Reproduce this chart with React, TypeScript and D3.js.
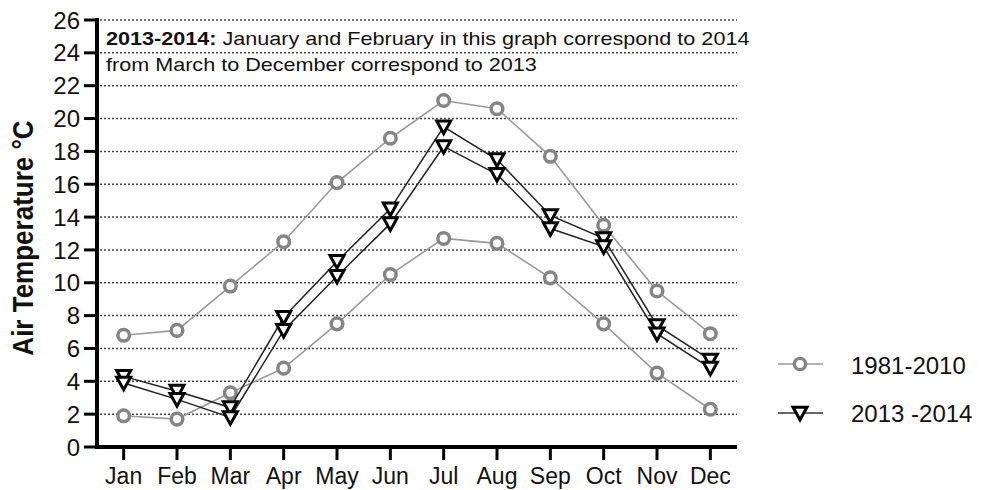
import React from "react";
import * as d3 from "d3";

const months = ["Jan","Feb","Mar","Apr","May","Jun","Jul","Aug","Sep","Oct","Nov","Dec"];
const climUpper = [6.8, 7.1, 9.8, 12.5, 16.1, 18.8, 21.1, 20.6, 17.7, 13.5, 9.5, 6.9];
const climLower = [1.9, 1.7, 3.3, 4.8, 7.5, 10.5, 12.7, 12.4, 10.3, 7.5, 4.5, 2.3];
const obsUpper = [4.3, 3.4, 2.4, 7.9, 11.3, 14.5, 19.5, 17.5, 14.1, 12.7, 7.4, 5.3];
const obsLower = [3.9, 2.9, 1.8, 7.1, 10.4, 13.6, 18.3, 16.6, 13.3, 12.2, 6.9, 4.8];
const yTicks = d3.range(0, 27, 2);
const legendLabels = ["1981-2010", "2013 -2014"];

const FONT = "'Liberation Sans', Arial, Helvetica, sans-serif";
const W = 981, H = 490;
const X0 = 97, X1 = 737, Y0 = 447, Y1 = 20;

const triPath = "M-7,-5.8 L7,-5.8 L0,6.8 Z";

export default function App() {
  const x = d3.scaleBand<string>().domain(months).range([X0, X1]).padding(0);
  const cx = (m: string) => (x(m) as number) + x.bandwidth() / 2;
  const y = d3.scaleLinear().domain([0, 26]).range([Y0, Y1]);
  const line = d3.line<number>().x((_, i) => cx(months[i])).y((v) => y(v));

  const grayLine = "#9a9a9a";
  const grayMark = "#858585";

  const circles = (vals: number[], key: string) =>
    vals.map((v, i) => (
      <circle key={key + i} cx={cx(months[i])} cy={y(v)} r={5.8} fill="white" stroke={grayMark} strokeWidth={3.5} />
    ));
  const tris = (vals: number[], key: string) =>
    vals.map((v, i) => (
      <path key={key + i} d={triPath} transform={`translate(${cx(months[i])},${y(v)})`} fill="white" stroke="black" strokeWidth={3} strokeLinejoin="miter" />
    ));

  return (
    <svg width={W} height={H} style={{ position: "absolute", left: 0, top: 0, background: "white" }} fontFamily={FONT}>
      <rect width={W} height={H} fill="white" />
      {yTicks.filter((t) => t > 0).map((t) => (
        <line key={"g" + t} x1={X0 + 3} x2={X1} y1={y(t)} y2={y(t)} stroke="#444" strokeWidth={1.5} strokeDasharray="2,2" />
      ))}
      <g transform="translate(106,45) scale(1.2,1)">
        <text fontSize={18} fill="#111">
          <tspan fontWeight="bold">2013-2014:</tspan>
          <tspan> January and February in this graph correspond to 2014</tspan>
        </text>
      </g>
      <g transform="translate(106,71) scale(1.2,1)">
        <text fontSize={18} fill="#111">from March to December correspond to 2013</text>
      </g>
      <path d={line(climUpper) || ""} fill="none" stroke={grayLine} strokeWidth={1.6} />
      <path d={line(climLower) || ""} fill="none" stroke={grayLine} strokeWidth={1.6} />
      {circles(climUpper, "cu")}
      {circles(climLower, "cl")}
      <path d={line(obsUpper) || ""} fill="none" stroke="#222" strokeWidth={1.5} />
      <path d={line(obsLower) || ""} fill="none" stroke="#222" strokeWidth={1.5} />
      {tris(obsUpper, "ou")}
      {tris(obsLower, "ol")}
      <line x1={X0} x2={X0} y1={Y1 - 2} y2={Y0 + 2} stroke="black" strokeWidth={4} />
      <line x1={X0 - 2} x2={X1} y1={Y0} y2={Y0} stroke="black" strokeWidth={4} />
      {yTicks.map((t) => (
        <g key={"yt" + t}>
          <line x1={X0 - 13} x2={X0} y1={y(t)} y2={y(t)} stroke="black" strokeWidth={3} />
          <text x={80} y={y(t)} dy="0.36em" textAnchor="end" fontSize={24} fill="#111">{t}</text>
        </g>
      ))}
      {months.map((m) => (
        <g key={"xt" + m}>
          <line x1={cx(m)} x2={cx(m)} y1={Y0} y2={Y0 + 13} stroke="black" strokeWidth={3} />
          <text x={cx(m)} y={484} textAnchor="middle" fontSize={23} fill="#111">{m}</text>
        </g>
      ))}
      <g transform="translate(33,238) scale(1.1,1) rotate(-90)">
        <text textAnchor="middle" fontSize={26} fontWeight="bold" fill="#111">Air Temperature °C</text>
      </g>
      <line x1={778} x2={823} y1={364} y2={364} stroke={grayLine} strokeWidth={1.6} />
      <circle cx={800} cy={364} r={5.6} fill="white" stroke={grayMark} strokeWidth={3.4} />
      <text x={851} y={374} fontSize={24} fill="#111">{legendLabels[0]}</text>
      <line x1={778} x2={823} y1={413} y2={413} stroke="#333" strokeWidth={1.5} />
      <path d={triPath} transform="translate(800,413)" fill="white" stroke="black" strokeWidth={3} />
      <text x={851} y={422} fontSize={24} fill="#111">{legendLabels[1]}</text>
    </svg>
  );
}
